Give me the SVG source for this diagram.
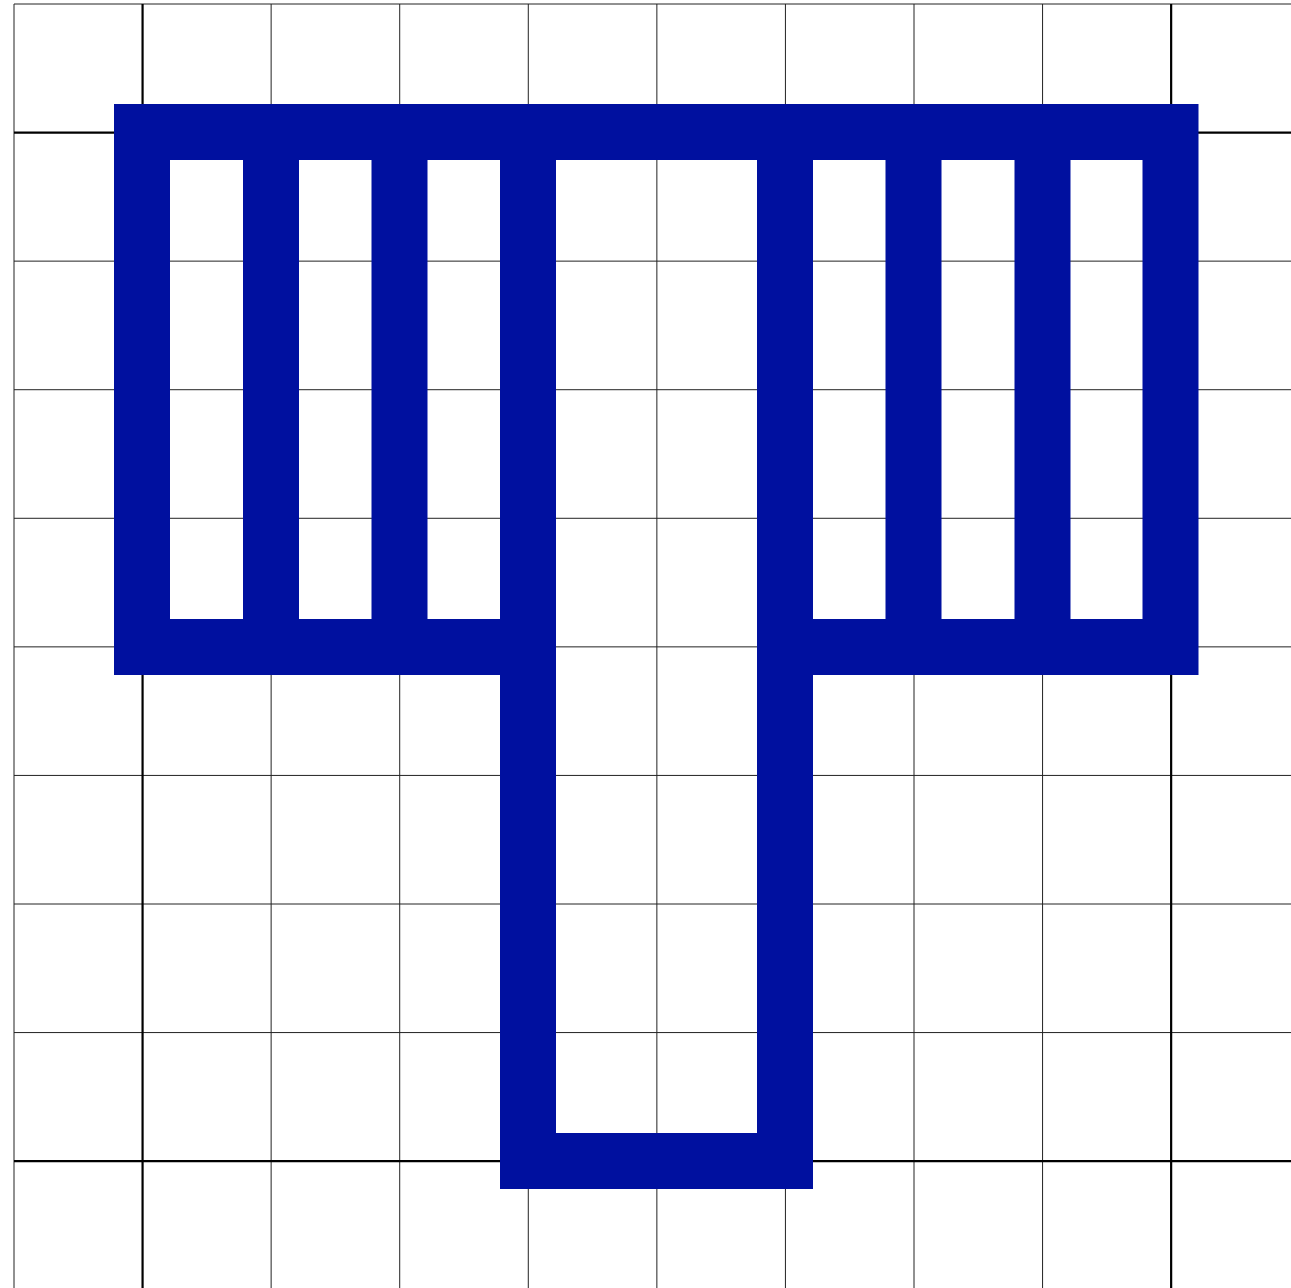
<svg xmlns="http://www.w3.org/2000/svg" width="1291" height="1288" viewBox="0 0 1291 1288">
<style>
.g{stroke:#222;stroke-width:1;fill:none}
.gt{stroke:#000;stroke-width:2.2;fill:none}
.b{fill:#00109f}
</style>
<rect x="0" y="0" width="1291" height="1288" fill="#fff"/>
<g id="grid">
<line class="g" x1="14" y1="4" x2="14" y2="1288" stroke="#777"/>
<line class="g" x1="271.14" y1="4" x2="271.14" y2="1288"/>
<line class="g" x1="399.71" y1="4" x2="399.71" y2="1288"/>
<line class="g" x1="528.29" y1="4" x2="528.29" y2="1288"/>
<line class="g" x1="656.86" y1="4" x2="656.86" y2="1288"/>
<line class="g" x1="785.43" y1="4" x2="785.43" y2="1288"/>
<line class="g" x1="914" y1="4" x2="914" y2="1288"/>
<line class="g" x1="1042.57" y1="4" x2="1042.57" y2="1288"/>
<line class="g" x1="14" y1="4" x2="1291" y2="4" stroke="#777"/>
<line class="g" x1="14" y1="261.14" x2="1291" y2="261.14"/>
<line class="g" x1="14" y1="389.71" x2="1291" y2="389.71"/>
<line class="g" x1="14" y1="518.29" x2="1291" y2="518.29"/>
<line class="g" x1="14" y1="646.86" x2="1291" y2="646.86"/>
<line class="g" x1="14" y1="775.43" x2="1291" y2="775.43"/>
<line class="g" x1="14" y1="904" x2="1291" y2="904"/>
<line class="g" x1="14" y1="1032.57" x2="1291" y2="1032.57"/>
<line class="gt" x1="142.57" y1="4" x2="142.57" y2="1288"/>
<line class="gt" x1="1171.14" y1="4" x2="1171.14" y2="1288"/>
<line class="gt" x1="14" y1="132.57" x2="1291" y2="132.57"/>
<line class="gt" x1="14" y1="1161.14" x2="1291" y2="1161.14"/>
</g>
<g id="shape">
<rect class="b" x="114" y="104" width="1084" height="56"/>
<rect class="b" x="114" y="619" width="442" height="56"/>
<rect class="b" x="757" y="619" width="441" height="56"/>
<rect class="b" x="114" y="104" width="56" height="571"/>
<rect class="b" x="243" y="104" width="56" height="571"/>
<rect class="b" x="371.5" y="104" width="56" height="571"/>
<rect class="b" x="500" y="104" width="56" height="1085"/>
<rect class="b" x="757" y="104" width="56" height="1085"/>
<rect class="b" x="885.5" y="104" width="56" height="571"/>
<rect class="b" x="1014.5" y="104" width="56" height="571"/>
<rect class="b" x="1142.5" y="104" width="56" height="571"/>
<rect class="b" x="500" y="1133" width="313" height="56"/>
</g>
</svg>
